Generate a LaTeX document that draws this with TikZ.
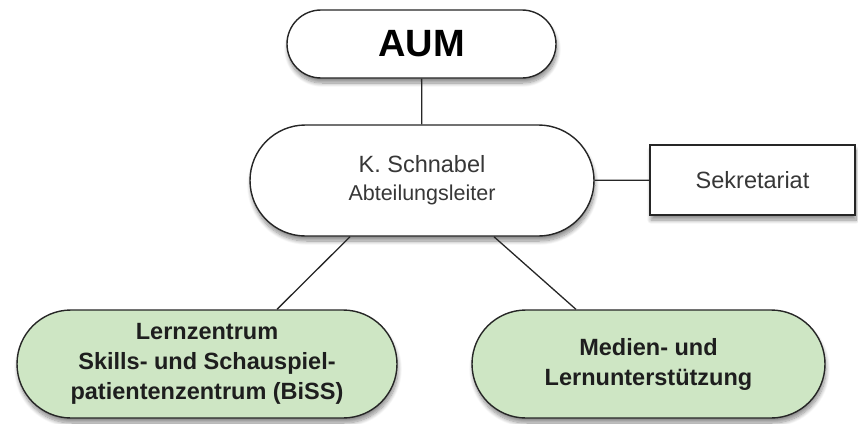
\documentclass[tikz,border=0pt]{standalone}
\usepackage{fontspec}
\setmainfont{Liberation Sans}
\usetikzlibrary{shapes.misc,shadows.blur}
\definecolor{boxgreen}{RGB}{206,230,196}
\definecolor{txtdark}{RGB}{30,30,30}
\definecolor{txtgray}{RGB}{55,55,55}
\tikzset{
  shade/.style={blur shadow={shadow blur steps=10, shadow xshift=1pt, shadow yshift=-5pt, shadow opacity=45, shadow blur radius=4pt}},
  pill/.style={rounded rectangle, draw=black!85, line width=1.4pt, fill=white, shade, align=center, inner sep=0pt},
  greenpill/.style={pill, fill=boxgreen, text=txtdark, font=\fontsize{23.5}{30}\selectfont\bfseries},
  squarebox/.style={rectangle, draw=black!85, line width=1.4pt, fill=white, shade, align=center, inner sep=0pt},
  conn/.style={draw=black!85, line width=1.3pt}
}
\begin{document}
\begin{tikzpicture}[x=1pt,y=-1pt]
\useasboundingbox (0,0) rectangle (858,423);
\node[pill, minimum width=269pt, minimum height=68pt, font=\fontsize{38}{44}\selectfont\bfseries] (aum) at (421.5,44) {AUM};
\node[pill, minimum width=344pt, minimum height=111pt, text=txtgray, font=\fontsize{23.5}{28}\selectfont] (sch) at (422,180.5)
  {K. Schnabel\\{\fontsize{21.5}{28}\selectfont Abteilungsleiter}};
\node[squarebox, minimum width=205pt, minimum height=70pt, text=txtgray, font=\fontsize{23.5}{26}\selectfont] (sek) at (752.5,180) {Sekretariat};
\node[greenpill, minimum width=380pt, minimum height=108pt] (lern) at (207,364)
  {Lernzentrum\\Skills- und Schauspiel-\\patientenzentrum (BiSS)};
\node[greenpill, minimum width=353pt, minimum height=108pt] (med) at (648.5,364)
  {Medien- und\\Lernunterstützung};
\draw[conn] (aum) -- (sch);
\draw[conn] (sch) -- (sek);
\draw[conn] (sch.218) -- (lern.38.5);
\draw[conn] (sch.-38) -- (med.143);
\end{tikzpicture}
\end{document}
